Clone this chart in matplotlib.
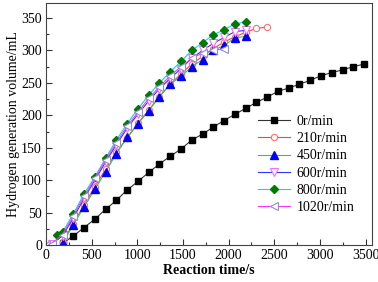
import matplotlib
matplotlib.use("Agg")
import matplotlib.pyplot as plt
from matplotlib.ticker import MultipleLocator

plt.rcParams['font.family'] = ['Liberation Serif', 'DejaVu Serif']

# data (time in s, volume in mL)
t_0 = [180, 298, 416, 534, 652, 770, 888, 1006, 1124, 1242, 1360, 1478, 1596, 1714, 1832,
       1950, 2068, 2186, 2304, 2422, 2540, 2658, 2776, 2894, 3012, 3130, 3248, 3366, 3484]
v_0 = [2.6, 14, 27, 40, 55, 69, 85, 98, 112, 125, 137, 148, 162, 171, 182,
       192, 201.5, 210.7, 220, 228, 237, 242, 248, 254, 261, 266, 270, 275, 279]

t_210 = [180, 298, 416, 534, 652, 770, 888, 1006, 1124, 1242, 1360, 1478, 1596, 1714,
         1832, 1950, 2068, 2186, 2304, 2422]
v_210 = [5, 33, 62, 90, 117, 143, 165, 188, 208, 229, 248, 264, 279, 291,
         303, 313, 321, 328, 334, 336]

t_450 = [180, 298, 416, 534, 652, 770, 888, 1006, 1124, 1242, 1360, 1478, 1596, 1714,
         1832, 1950, 2068, 2186]
v_450 = [3, 31, 59, 86, 113, 141, 166, 187, 207, 229, 248, 260, 275, 286,
         300, 308, 319, 322]

t_600 = [60, 180, 298, 416, 534, 652, 770, 888, 1006, 1124, 1242, 1360, 1478, 1596,
         1714, 1832, 1950, 2068, 2186]
v_600 = [2, 14, 42, 72, 100, 128, 155, 180, 202, 222, 241, 257, 272, 288,
         300, 311, 320, 329, 331]

t_800 = [120, 180, 298, 416, 534, 652, 770, 888, 1006, 1124, 1242, 1360, 1478, 1596,
         1714, 1832, 1950, 2068, 2186]
v_800 = [15, 20, 48, 79, 105, 134, 162, 187, 210, 231, 250, 267, 283, 300,
         312, 324, 332, 341, 344]

t_1020 = [0, 60, 180, 298, 416, 534, 652, 770, 888, 1006, 1124, 1242, 1360, 1478,
          1596, 1714, 1832, 1950]
v_1020 = [0, 2, 16, 45, 75, 103, 131, 158, 183, 205, 226, 244, 261, 275,
          288, 296, 300, 303]

fig = plt.figure(figsize=(3.78, 2.82), dpi=100)
ax = fig.add_axes([0.122, 0.131, 0.862, 0.858])

lw = 0.8
ax.plot(t_0, v_0, color='#333333', lw=lw, marker='s', ms=4.2,
        mfc='black', mec='black', label='0r/min')
ax.plot(t_210, v_210, color='#ff4040', lw=lw, marker='o', ms=4.5,
        mfc='white', mec='#ff7070', mew=0.8, label='210r/min')
ax.plot(t_450, v_450, color='#33cc33', lw=lw, marker='^', ms=5.5,
        mfc='#0000ff', mec='#0000ff', label='450r/min')
ax.plot(t_600, v_600, color='#3333ff', lw=lw, marker='v', ms=5.5,
        mfc='white', mec='#ff66ff', mew=0.8, label='600r/min')
ax.plot(t_800, v_800, color='#00dddd', lw=lw, marker='D', ms=4.3,
        mfc='#007a00', mec='#007a00', label='800r/min')
ax.plot(t_1020, v_1020, color='#ff33ff', lw=lw, marker='<', ms=5.5,
        mfc='white', mec='#9090cc', mew=0.8, label='1020r/min')

ax.set_xlim(0, 3570)
ax.set_ylim(0, 373)
ax.xaxis.set_major_locator(MultipleLocator(500))
ax.xaxis.set_minor_locator(MultipleLocator(250))
ax.yaxis.set_major_locator(MultipleLocator(50))
ax.yaxis.set_minor_locator(MultipleLocator(25))
ax.tick_params(which='both', direction='in', labelsize=10, pad=3, color='#333333')
ax.tick_params(which='major', length=4, width=0.8)
ax.tick_params(which='minor', length=2.5, width=0.8)
for s in ax.spines.values():
    s.set_linewidth(0.8)
    s.set_color('#444444')

ax.set_xlabel('Reaction time/s', fontsize=10, fontweight='bold', labelpad=1)
ax.set_ylabel('Hydrogen generation volume/mL', fontsize=10, labelpad=1)

ax.legend(loc='center left', bbox_to_anchor=(0.65, 0.333), frameon=False,
          fontsize=10, handlelength=2.3, handletextpad=0.5, labelspacing=0.3,
          borderpad=0, borderaxespad=0)

fig.savefig('out.png', dpi=100)
